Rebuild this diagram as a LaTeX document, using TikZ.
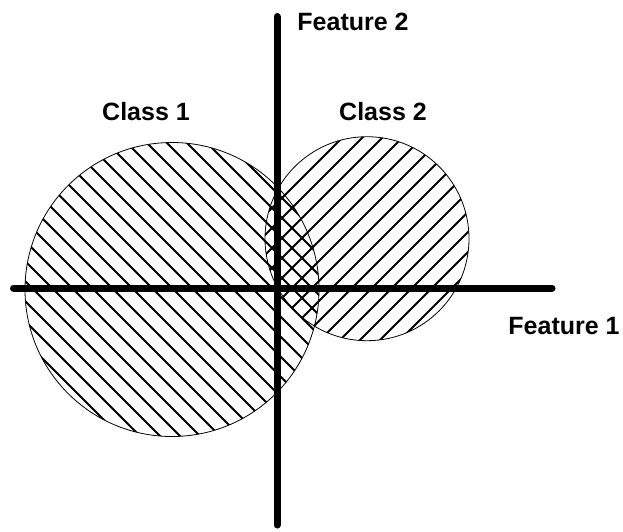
\documentclass[tikz,border=0pt]{standalone}
\usepackage{fontspec}
\setmainfont{Liberation Sans}
\begin{document}
\begin{tikzpicture}[x=1pt,y=-1pt,
  axis/.style={line width=7pt,line cap=round},
  hatch/.style={line width=1.8pt},
  rim/.style={line width=0.8pt},
  lbl/.style={font=\fontsize{25}{28}\selectfont\bfseries,inner sep=0pt}]
\useasboundingbox (0,0) rectangle (623,531);
% centres
\coordinate (c1) at (172,289.5);
\coordinate (c2) at (367,238.7);
% hatching class 1
\begin{scope}
  \clip (c1) circle[radius=147];
  \foreach \c in {-84,-64,...,336}{
    \draw[hatch] (0,\c) -- (350,350+\c);
  }
\end{scope}
% hatching class 2
\begin{scope}
  \clip (c2) circle[radius=102];
  \foreach \c in {440,460,...,780}{
    \draw[hatch] (200,\c-200) -- (520,\c-520);
  }
\end{scope}
\draw[rim] (c1) circle[radius=147];
\draw[rim] (c2) circle[radius=102];
% axes
\coordinate (xl) at (13.5,288);
\coordinate (xr) at (552,288);
\coordinate (yt) at (277,16.5);
\coordinate (yb) at (277,525);
\draw[axis] (xl) -- (xr);
\draw[axis] (yt) -- (yb);
% labels
\node[lbl] (f2) at (353,22) {Feature 2};
\node[lbl] (f1) at (564,326) {Feature 1};
\node[lbl] (k1) at (146,112) {Class 1};
\node[lbl] (k2) at (383,112) {Class 2};
\end{tikzpicture}
\end{document}
